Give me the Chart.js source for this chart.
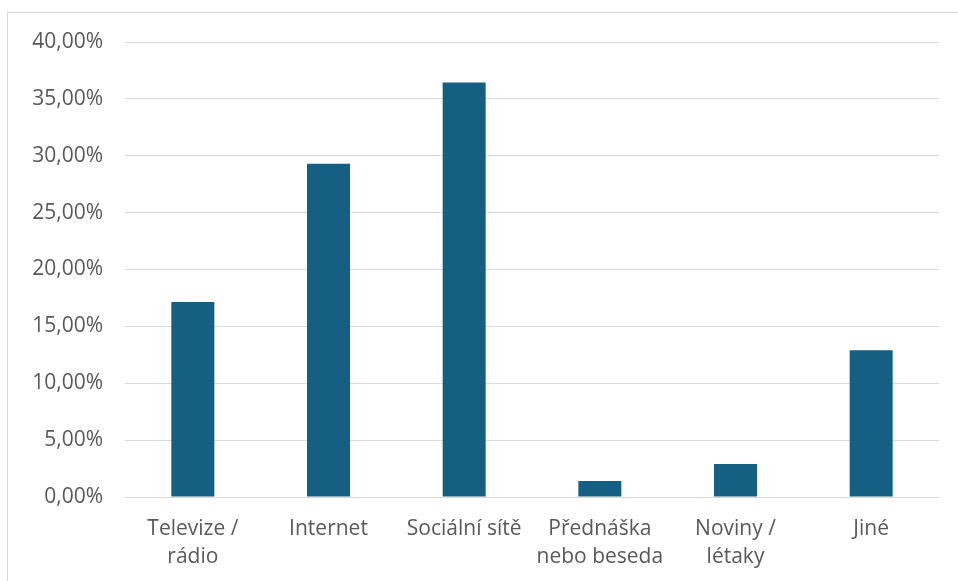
<!DOCTYPE html>
<html>
<head>
<meta charset="utf-8">
<script src="https://cdn.jsdelivr.net/npm/chart.js@4"></script>
<style>
  html, body { margin: 0; padding: 0; background: #fff; overflow: hidden; }
  #wrap { position: relative; width: 958px; height: 581px; }
  #frame { position: absolute; left: 7px; top: 12px; width: 960px; height: 600px; border: 1px solid #d9d9d9; box-sizing: border-box; }
  canvas { position: absolute; left: 0; top: 0; }
</style>
</head>
<body>
<div id="wrap">
  <div id="frame"></div>
  <canvas id="chart" width="958" height="581"></canvas>
</div>
<script>
const categories = [
    ['Televize /', 'rádio'],
    'Internet',
    'Sociální sítě',
    ['Přednáška', 'nebo beseda'],
    ['Noviny /', 'létaky'],
    'Jiné'
];
const shares = [17.14, 29.3, 36.45, 1.4, 2.9, 12.9];
const yMax = 40;
const yStep = 5;

const textColor = '#595959';
const fontFamily = '"Open Sans", "Noto Sans", sans-serif';

const ctx = document.getElementById('chart').getContext('2d');

new Chart(ctx, {
    type: 'bar',
    data: {
        labels: categories,
        datasets: [{
            data: shares,
            backgroundColor: '#156082',
            barPercentage: 0.317,
            categoryPercentage: 1
        }]
    },
    options: {
        responsive: false,
        animation: false,
        layout: { padding: { top: 42, right: 19, left: 0, bottom: 0 } },
        plugins: {
            legend: { display: false },
            tooltip: { enabled: false }
        },
        scales: {
            x: {
                grid: { display: false },
                border: { display: false },
                ticks: {
                    color: textColor,
                    font: { family: fontFamily, size: 21, lineHeight: 1.33 },
                    padding: 10,
                    maxRotation: 0,
                    autoSkip: false
                },
                afterFit: (scale) => { scale.height = 84; }
            },
            y: {
                min: 0,
                max: yMax,
                grid: { color: '#d9d9d9', lineWidth: 1, drawTicks: false },
                border: { display: false },
                ticks: {
                    stepSize: yStep,
                    color: textColor,
                    font: { family: fontFamily, size: 21 },
                    padding: 22,
                    callback: (v) => v.toFixed(2).replace('.', ',') + '%'
                },
                afterFit: (scale) => { scale.width = 125; }
            }
        }
    }
});
</script>
</body>
</html>
